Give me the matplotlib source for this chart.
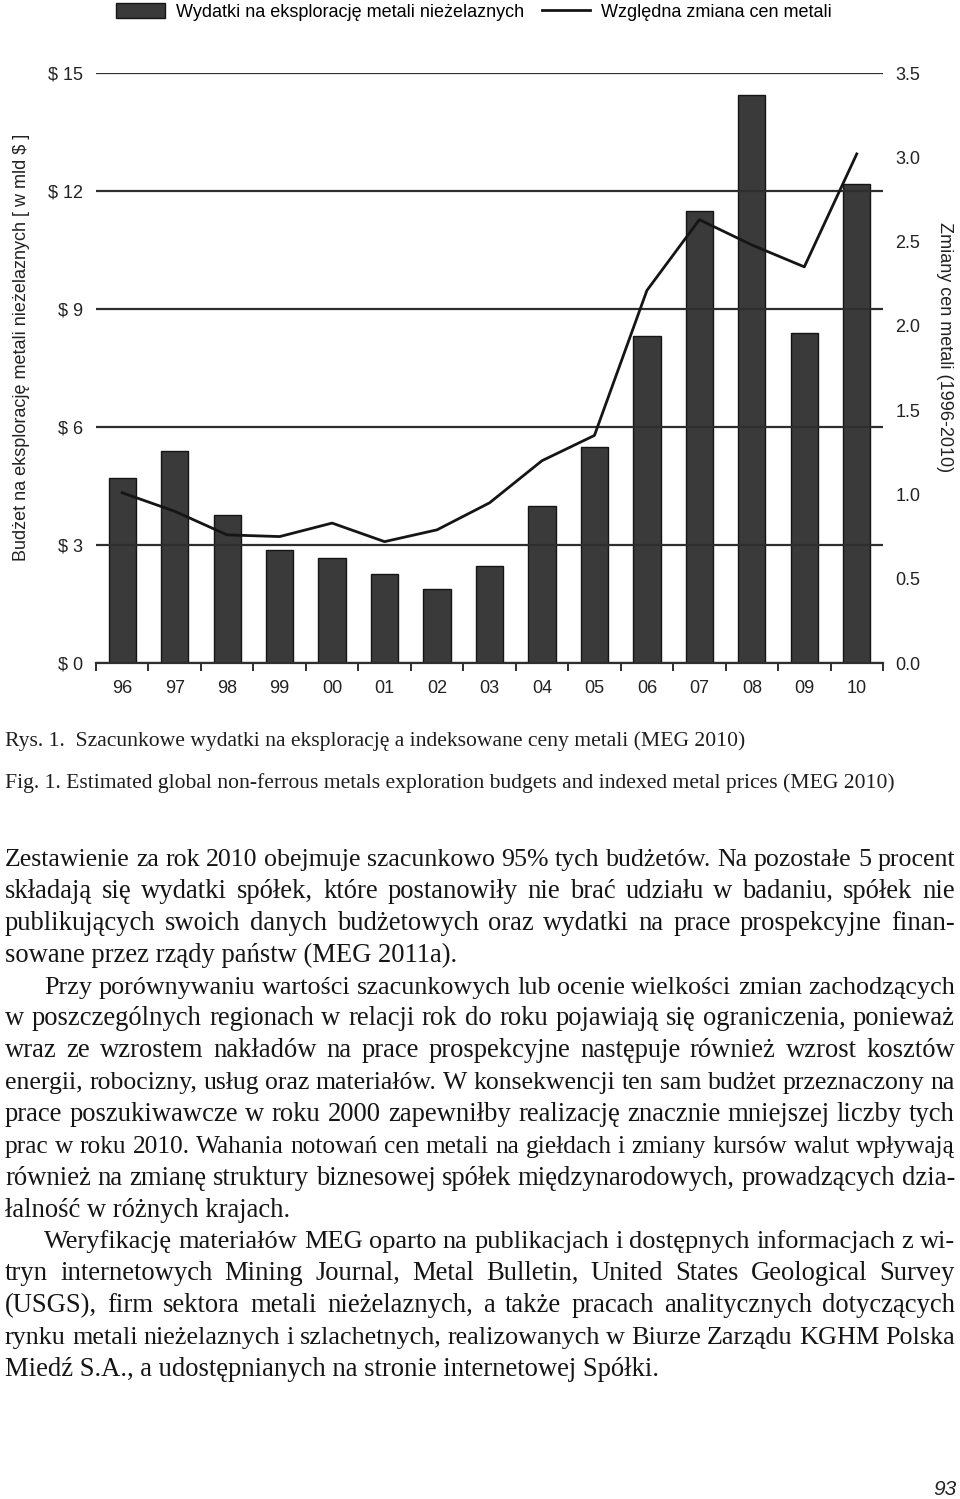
import matplotlib
matplotlib.use("Agg")
import matplotlib.pyplot as plt
from matplotlib.patches import Patch
from matplotlib.lines import Line2D
import numpy as np

# ---------------- data ----------------
years = ["96", "97", "98", "99", "00", "01", "02", "03", "04", "05", "06", "07", "08", "09", "10"]
budgets = [4.70, 5.40, 3.77, 2.88, 2.66, 2.27, 1.89, 2.46, 3.99, 5.49, 8.32, 11.48, 14.43, 8.40, 12.17]
price_index = [1.01, 0.90, 0.76, 0.75, 0.83, 0.72, 0.79, 0.95, 1.20, 1.35, 2.21, 2.63, 2.48, 2.35, 3.02]
left_ticks = [0, 3, 6, 9, 12, 15]
right_ticks = [0.0, 0.5, 1.0, 1.5, 2.0, 2.5, 3.0, 3.5]

legend_labels = ["Wydatki na eksplorację metali nieżelaznych", "Względna zmiana cen metali"]
left_label = "Budżet na eksplorację metali nieżelaznych [ w mld $ ]"
right_label = "Zmiany cen metali (1996-2010)"

caption_pl = "Rys. 1.  Szacunkowe wydatki na eksplorację a indeksowane ceny metali (MEG 2010)"
caption_en = "Fig. 1. Estimated global non-ferrous metals exploration budgets and indexed metal prices (MEG 2010)"

# (text, indented, justified)
body_lines = [
    ("Zestawienie za rok 2010 obejmuje szacunkowo 95% tych budżetów. Na pozostałe 5 procent", False, True),
    ("składają się wydatki spółek, które postanowiły nie brać udziału w badaniu, spółek nie", False, True),
    ("publikujących swoich danych budżetowych oraz wydatki na prace prospekcyjne finan-", False, True),
    ("sowane przez rządy państw (MEG 2011a).", False, False),
    ("Przy porównywaniu wartości szacunkowych lub ocenie wielkości zmian zachodzących", True, True),
    ("w poszczególnych regionach w relacji rok do roku pojawiają się ograniczenia, ponieważ", False, True),
    ("wraz ze wzrostem nakładów na prace prospekcyjne następuje również wzrost kosztów", False, True),
    ("energii, robocizny, usług oraz materiałów. W konsekwencji ten sam budżet przeznaczony na", False, True),
    ("prace poszukiwawcze w roku 2000 zapewniłby realizację znacznie mniejszej liczby tych", False, True),
    ("prac w roku 2010. Wahania notowań cen metali na giełdach i zmiany kursów walut wpływają", False, True),
    ("również na zmianę struktury biznesowej spółek międzynarodowych, prowadzących dzia-", False, True),
    ("łalność w różnych krajach.", False, False),
    ("Weryfikację materiałów MEG oparto na publikacjach i dostępnych informacjach z wi-", True, True),
    ("tryn internetowych Mining Journal, Metal Bulletin, United States Geological Survey", False, True),
    ("(USGS), firm sektora metali nieżelaznych, a także pracach analitycznych dotyczących", False, True),
    ("rynku metali nieżelaznych i szlachetnych, realizowanych w Biurze Zarządu KGHM Polska", False, True),
    ("Miedź S.A., a udostępnianych na stronie internetowej Spółki.", False, False),
]
page_number = "93"

# ---------------- figure ----------------
W, H = 960, 1499
fig = plt.figure(figsize=(W / 100, H / 100), dpi=100)
fig.patch.set_facecolor("white")

def fx(px):
    return px / W

def fy(py):
    return 1 - py / H

sans = ["Liberation Sans", "DejaVu Sans"]
serif = ["Liberation Serif", "DejaVu Serif"]

bar_color = "#3a3a3a"
ink = "#151515"
grid_color = "#2e2e2e"

ax = fig.add_axes([fx(96), fy(663), fx(883) - fx(96), fy(73) - fy(663)])
x = np.arange(len(years))
ax.bar(x, budgets, width=0.52, color=bar_color, edgecolor=ink, linewidth=1.0, zorder=2)
ax.set_xlim(-0.5, len(years) - 0.5)
ax.set_ylim(0, 15)
ax.set_axisbelow(False)
ax.set_yticks(left_ticks)
ax.set_yticklabels([f"$ {v}" for v in left_ticks], fontsize=13, family=sans, color="#222")
ax.tick_params(axis="y", length=0, pad=9)
ax.yaxis.grid(True, color=grid_color, linewidth=1.6)
for s in ["left", "right", "top"]:
    ax.spines[s].set_visible(False)
ax.spines["bottom"].set_color(grid_color)
ax.spines["bottom"].set_linewidth(1.6)
ax.set_xticks(np.arange(-0.5, len(years)), minor=False)
ax.set_xticklabels([])
ax.set_xticks(x, minor=True)
ax.set_xticklabels(years, minor=True, fontsize=13, family=sans, color="#222")
ax.tick_params(axis="x", which="major", direction="out", length=6, width=1.4, color=grid_color)
ax.tick_params(axis="x", which="minor", length=0, pad=12.5)

ax2 = ax.twinx()
ax2.set_ylim(0, 3.5)
ax2.plot(x, price_index, color=ink, linewidth=2.0, zorder=3)
ax2.set_yticks(right_ticks)
ax2.set_yticklabels([f"{v:.1f}" for v in right_ticks], fontsize=13, family=sans, color="#222")
ax2.tick_params(axis="y", length=0, pad=9)
for s in ax2.spines.values():
    s.set_visible(False)

fig.text(fx(22), fy(347), left_label, rotation=90, ha="center", va="center",
         fontsize=13, family=sans, color="#222")
fig.text(fx(944), fy(347), right_label, rotation=270, ha="center", va="center",
         fontsize=13, family=sans, color="#222")

handles = [Patch(facecolor=bar_color, edgecolor=ink, linewidth=1.0),
           Line2D([], [], color=ink, linewidth=2.0)]
fig.legend(handles, legend_labels, loc="center", bbox_to_anchor=(fx(474), fy(12)), ncol=2,
           frameon=False, prop={"family": sans, "size": 13}, handlelength=2.7,
           handleheight=0.9, columnspacing=1.0, handletextpad=0.6)

# ---------------- captions & body text ----------------
fig.text(fx(5), fy(746), caption_pl, ha="left", va="baseline", fontsize=15.6, family=serif, color="#1e1e1e")
fig.text(fx(5), fy(788), caption_en, ha="left", va="baseline", fontsize=15.6, family=serif, color="#1e1e1e")

renderer = fig.canvas.get_renderer()
body_fs = 19.2
min_gap = 6.5
left_x, right_x, indent_x = 5, 955, 44
first_base, lead = 866, 31.875

for i, (line, indented, just) in enumerate(body_lines):
    yb = round(first_base + i * lead)
    x0 = indent_x if indented else left_x
    if not just:
        fig.text(fx(x0), fy(yb), line, ha="left", va="baseline", fontsize=body_fs,
                 family=serif, color="#151515")
        continue
    words = line.split(" ")
    texts = [fig.text(0, fy(yb), w, ha="left", va="baseline", fontsize=body_fs,
                      family=serif, color="#151515") for w in words]
    widths = [t.get_window_extent(renderer).width for t in texts]
    avail = right_x - x0
    if (avail - sum(widths)) / (len(words) - 1) < min_gap:
        fs = body_fs * (avail - min_gap * (len(words) - 1)) / sum(widths)
        for t in texts:
            t.set_fontsize(fs)
        widths = [t.get_window_extent(renderer).width for t in texts]
    gap = (avail - sum(widths)) / (len(words) - 1)
    cx = x0
    for t, w in zip(texts, widths):
        t.set_x(fx(cx))
        cx += w + gap

fig.text(fx(957), fy(1495), page_number, ha="right", va="baseline", fontsize=15,
         family=sans, style="italic", color="#222")

fig.savefig("out.png", dpi=100, facecolor="white")
